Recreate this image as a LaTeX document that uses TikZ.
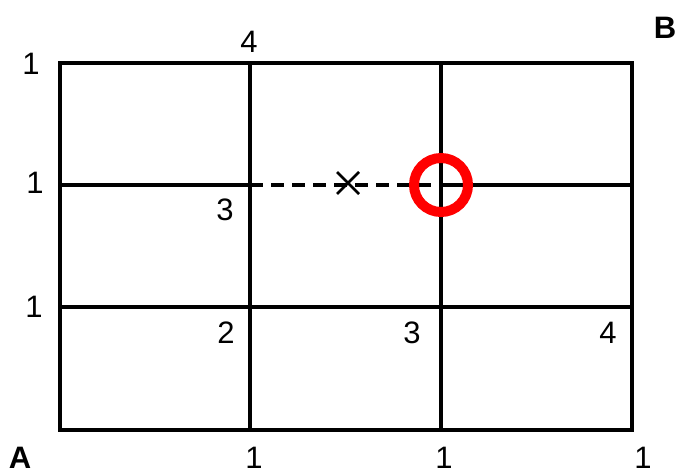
\documentclass[tikz,border=0pt]{standalone}
\usepackage{fontspec}
\setmainfont{Liberation Sans}
\usetikzlibrary{calc}
\begin{document}
\begin{tikzpicture}[x=1pt,y=-1pt,
  gridline/.style={line width=4pt,line cap=rect},
  dashline/.style={line width=3.5pt,dash pattern=on 13pt off 8pt},
  lbl/.style={font=\fontsize{31}{31}\selectfont,inner sep=0pt},
  blbl/.style={font=\fontsize{31}{31}\selectfont\bfseries,inner sep=0pt},
  crossline/.style={line width=2.5pt},
  ring/.style={draw=red,line width=10pt}]
\useasboundingbox (0,0) rectangle (687,474);
% grid points
\foreach \i/\x in {0/60,1/250,2/441,3/632}
  \foreach \j/\y in {0/63,1/185,2/307,3/430}
    \coordinate (p\i\j) at (\x,\y);
% outer frame and lines
\draw[gridline] (p00) rectangle (p33);
\draw[gridline] (p10) -- (p13);
\draw[gridline] (p20) -- (p23);
\draw[gridline] (p02) -- (p32);
\draw[gridline] (p01) -- (p11);
\draw[gridline] (p21) -- (p31);
\draw[dashline] (p11) -- (p21);
% cross
\coordinate (xm) at (348,183);
\draw[crossline] ($(xm)+(-11,-11)$) -- ($(xm)+(11,11)$);
\draw[crossline] ($(xm)+(-11,11)$) -- ($(xm)+(11,-11)$);
% ring
\node[ring,circle,minimum size=54pt,inner sep=0pt] (ring) at (p21) {};
% labels
\node[lbl] (l1) at (31,64) {1};
\node[lbl] (l2) at (35,183) {1};
\node[lbl] (l3) at (34,307) {1};
\node[lbl] (t4) at (249,42) {4};
\node[lbl] (m3) at (225,210) {3};
\node[lbl] (n2) at (226,333) {2};
\node[lbl] (n3) at (412,333) {3};
\node[lbl] (n4) at (608,333) {4};
\node[lbl] (b1) at (254,458) {1};
\node[lbl] (b2) at (444,458) {1};
\node[lbl] (b3) at (643,458) {1};
\node[blbl] (A) at (20,458) {A};
\node[blbl] (B) at (665,28) {B};
\end{tikzpicture}
\end{document}
